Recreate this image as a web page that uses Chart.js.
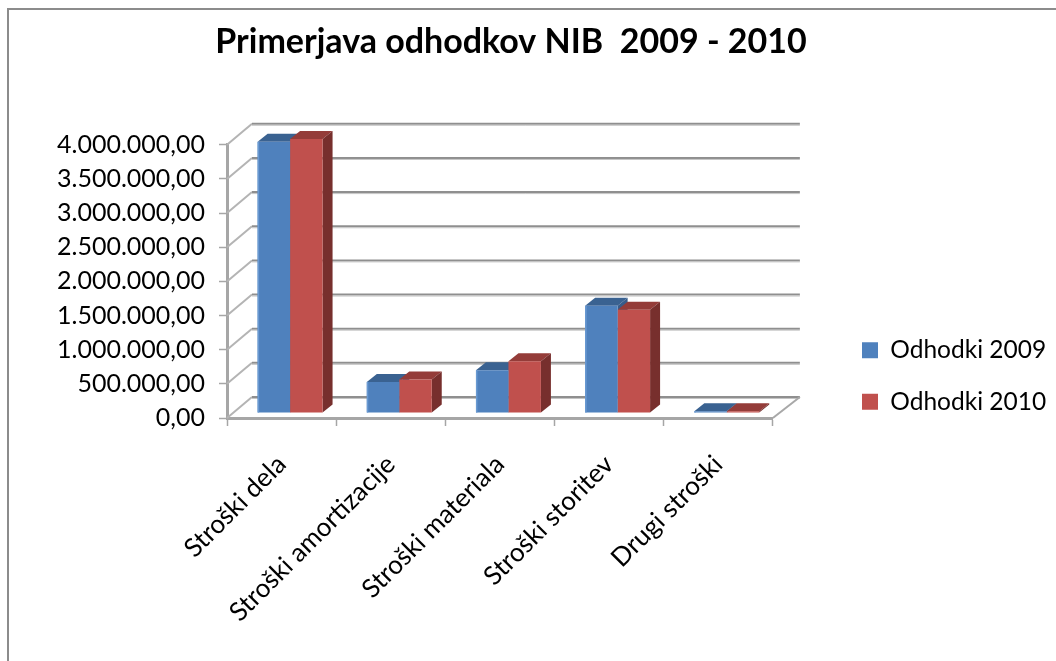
<!DOCTYPE html>
<html><head><meta charset="utf-8">
<style>html,body{margin:0;padding:0;background:#fff}#w{width:1056px;height:661px;position:relative}</style>
<script src="https://cdn.jsdelivr.net/npm/chart.js@4"></script>
</head><body><div id="w"><canvas id="c" width="1056" height="661"></canvas></div>
<script>
const categories = ["Stroški dela","Stroški amortizacije","Stroški materiala","Stroški storitev","Drugi stroški"];
const odhodki2009 = [3970000,455000,625000,1570000,25000];
const odhodki2010 = [4010000,490000,756000,1510000,25000];
const seriesNames = ["Odhodki 2009","Odhodki 2010"];
const titleText = "Primerjava odhodkov NIB  2009 - 2010";
const FONT = "Lato, Carlito, 'Open Sans', sans-serif";
const fmt = v => v.toLocaleString('de-DE',{minimumFractionDigits:2,maximumFractionDigits:2});
const faceColors = [['#3a6291','#375c8a'],['#943c39','#772f2d']];

const threeD = {
  id:'threeD',
  beforeDraw(chart){
    const c=chart.ctx; c.save(); c.strokeStyle='#8c8c8c'; c.lineWidth=2;
    c.beginPath(); c.moveTo(8,661); c.lineTo(8,9); c.lineTo(1056,9); c.stroke(); c.restore();
  },
  beforeDatasetsDraw(chart){
    const c=chart.ctx, y=chart.scales.y, a=chart.chartArea;
    const dx=25, dy=-21;
    c.save();
    y.ticks.forEach((t)=>{
      const py=y.getPixelForValue(t.value);
      c.strokeStyle='#b4b4b4'; c.lineWidth=2;
      c.beginPath(); c.moveTo(a.left,py); c.lineTo(a.left+dx,py+dy); c.stroke();
      c.strokeStyle='#8f8f8f'; c.lineWidth=2;
      c.beginPath(); c.moveTo(a.left+dx,py+dy); c.lineTo(a.right+dx+2,py+dy); c.stroke();
      c.strokeStyle='#c4c4c4'; c.lineWidth=1;
      c.beginPath(); c.moveTo(a.left+dx,py+dy+1.5); c.lineTo(a.right+dx+2,py+dy+1.5); c.stroke();
    });
    c.strokeStyle='#a8a8a8'; c.lineWidth=2;
    c.beginPath(); c.moveTo(a.right,a.bottom); c.lineTo(a.right+dx+2,a.bottom+dy); c.stroke();
    c.restore();
    c.save(); c.translate(8.5,-5);
    const fx=10, fy=-8;
    [0,1].forEach(i=>{
      chart.getDatasetMeta(i).data.forEach(b=>{
        const l=b.x-b.width/2, r=b.x+b.width/2, t=b.y, bt=b.base;
        c.fillStyle=faceColors[i][0];
        c.beginPath(); c.moveTo(l,t); c.lineTo(l+fx,t+fy); c.lineTo(r+fx,t+fy); c.lineTo(r,t); c.closePath(); c.fill();
        c.fillStyle=faceColors[i][1];
        c.beginPath(); c.moveTo(r,t); c.lineTo(r+fx,t+fy); c.lineTo(r+fx,bt+fy); c.lineTo(r,bt); c.closePath(); c.fill();
      });
    });
  },
  afterDatasetsDraw(chart){
    const c=chart.ctx;
    c.fillStyle='#6a9ad2';
    chart.getDatasetMeta(0).data.forEach(b=>{ c.fillRect(b.x-b.width/2,b.y,1.5,b.base-b.y); });
    c.restore();
  },
  afterLayout(chart){
    const g=chart.legend; g.left=835; g.right=1056; g.top=276; g.bottom=476; g.adjustHitBoxes();
    const t=chart.titleBlock; t.left=0; t.right=1022;
  }
};

new Chart(document.getElementById('c'),{
  type:'bar',
  data:{labels:categories,datasets:[
    {label:seriesNames[0],data:odhodki2009,backgroundColor:'#4f81bd',clip:false},
    {label:seriesNames[1],data:odhodki2010,backgroundColor:'#c0504d',clip:false}
  ]},
  options:{
    responsive:false,animation:false,
    layout:{autoPadding:false,padding:{left:0,right:62,top:0,bottom:0}},
    datasets:{bar:{barPercentage:1,categoryPercentage:0.595}},
    plugins:{
      tooltip:{enabled:false},
      title:{display:true,text:titleText,color:'#000',font:{family:FONT,size:34,weight:'bold'},padding:{top:22,bottom:82}},
      legend:{display:true,position:'right',labels:{color:'#000',font:{family:FONT,size:24.5},boxWidth:16,boxHeight:16,padding:27}}
    },
    scales:{
      x:{
        grid:{drawOnChartArea:false,color:'#a6a6a6',tickLength:8,tickWidth:1.5},
        border:{color:'#a6a6a6',width:3},
        ticks:{color:'#000',font:{family:FONT,size:26},minRotation:45,maxRotation:45,padding:23,autoSkip:false},
        afterFit(s){s.height=243;}
      },
      y:{
        min:0,max:4000000,
        grid:{drawOnChartArea:false,color:'#a6a6a6',tickLength:8,tickWidth:1.5},
        border:{color:'#a6a6a6',width:3},
        ticks:{color:'#000',font:{family:FONT,size:25},stepSize:500000,padding:14,callback:v=>fmt(v)},
        afterFit(s){s.width=227;}
      }
    }
  },
  plugins:[threeD]
});
</script></body></html>
